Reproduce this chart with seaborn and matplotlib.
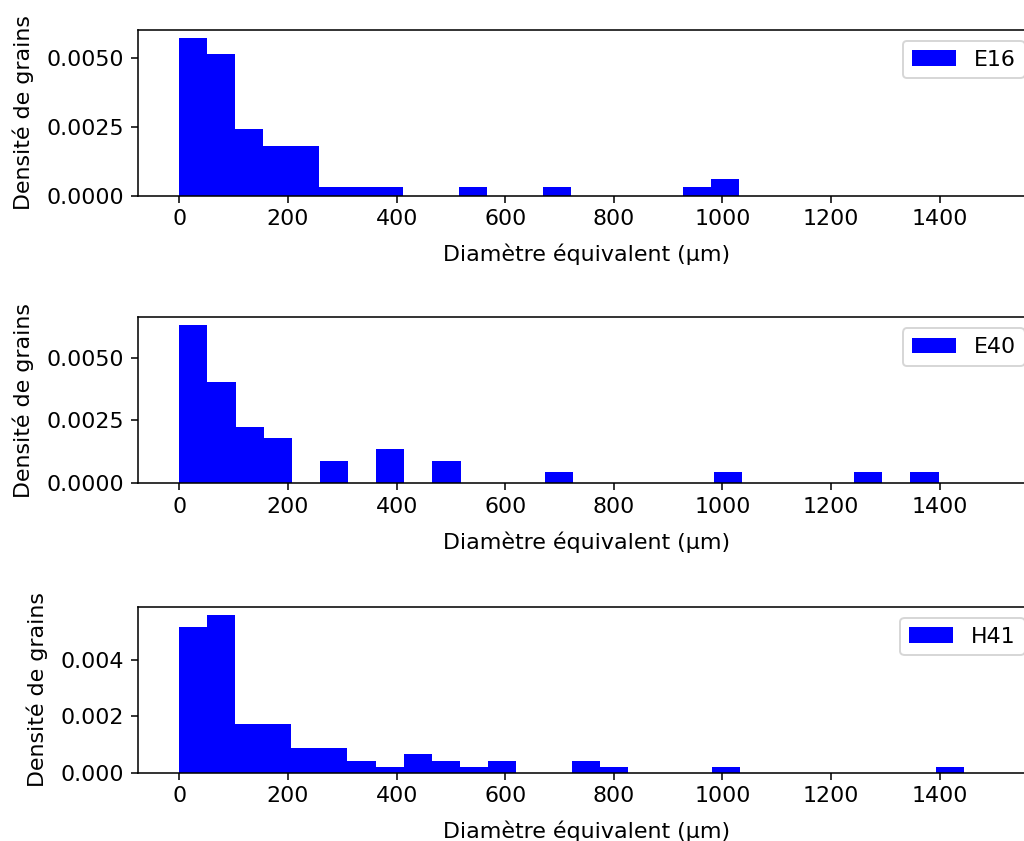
import matplotlib
matplotlib.use('Agg')
from matplotlib import pyplot as plt
from matplotlib.ticker import MaxNLocator
import seaborn as sns
import numpy as np

# grain counts per bin (bins of ~51.5 um)
samples = ['E16', 'E40', 'H41']

e16_counts = [19, 17, 8, 6, 6, 1, 1, 1, 0, 0, 1, 0, 0, 1, 0, 0, 0, 0, 1, 2]
e16_range = (0, 1030)

e40_counts = [14, 9, 5, 4, 0, 2, 0, 3, 0, 2, 0, 0, 0, 1, 0, 0, 0, 0, 0, 1,
              0, 0, 0, 0, 1, 0, 1]
e40_range = (0, 1398)

h41_counts = [24, 26, 8, 8, 4, 4, 2, 1, 3, 2, 1, 2, 0, 0, 2, 1, 0, 0, 0, 1,
              0, 0, 0, 0, 0, 0, 0, 1]
h41_range = (0, 1445)

all_counts = [e16_counts, e40_counts, h41_counts]
all_ranges = [e16_range, e40_range, h41_range]

xlabel = 'Diamètre équivalent (µm)'
ylabel = 'Densité de grains'

plt.rcParams['font.size'] = 11.4

fig = plt.figure(figsize=(1024 / 140, 841 / 140), dpi=140)

# axes boxes (left, bottom, width, height) in figure fraction
bottoms = [0.7673, 0.4253, 0.0812]

for name, counts, rng, b in zip(samples, all_counts, all_ranges, bottoms):
    ax = fig.add_axes([0.1345, b, 0.877, 0.1975])
    nbins = len(counts)
    edges = np.linspace(rng[0], rng[1], nbins + 1)
    centers = (edges[:-1] + edges[1:]) / 2
    sns.histplot(x=centers, weights=counts, bins=nbins, binrange=rng,
                 stat='density', color='blue', alpha=1, linewidth=0,
                 label=name, ax=ax)
    ax.set_xticks(np.arange(0, 1401, 200))
    ax.set_xlim(-76.6, 1577)
    ax.yaxis.set_major_locator(MaxNLocator(3, steps=[1, 2, 2.5, 5, 10]))
    ax.set_xlabel(xlabel, labelpad=7.5)
    ax.set_ylabel(ylabel, labelpad=6.5)
    ax.legend(loc='upper right')

plt.savefig('out.png', dpi=140)
